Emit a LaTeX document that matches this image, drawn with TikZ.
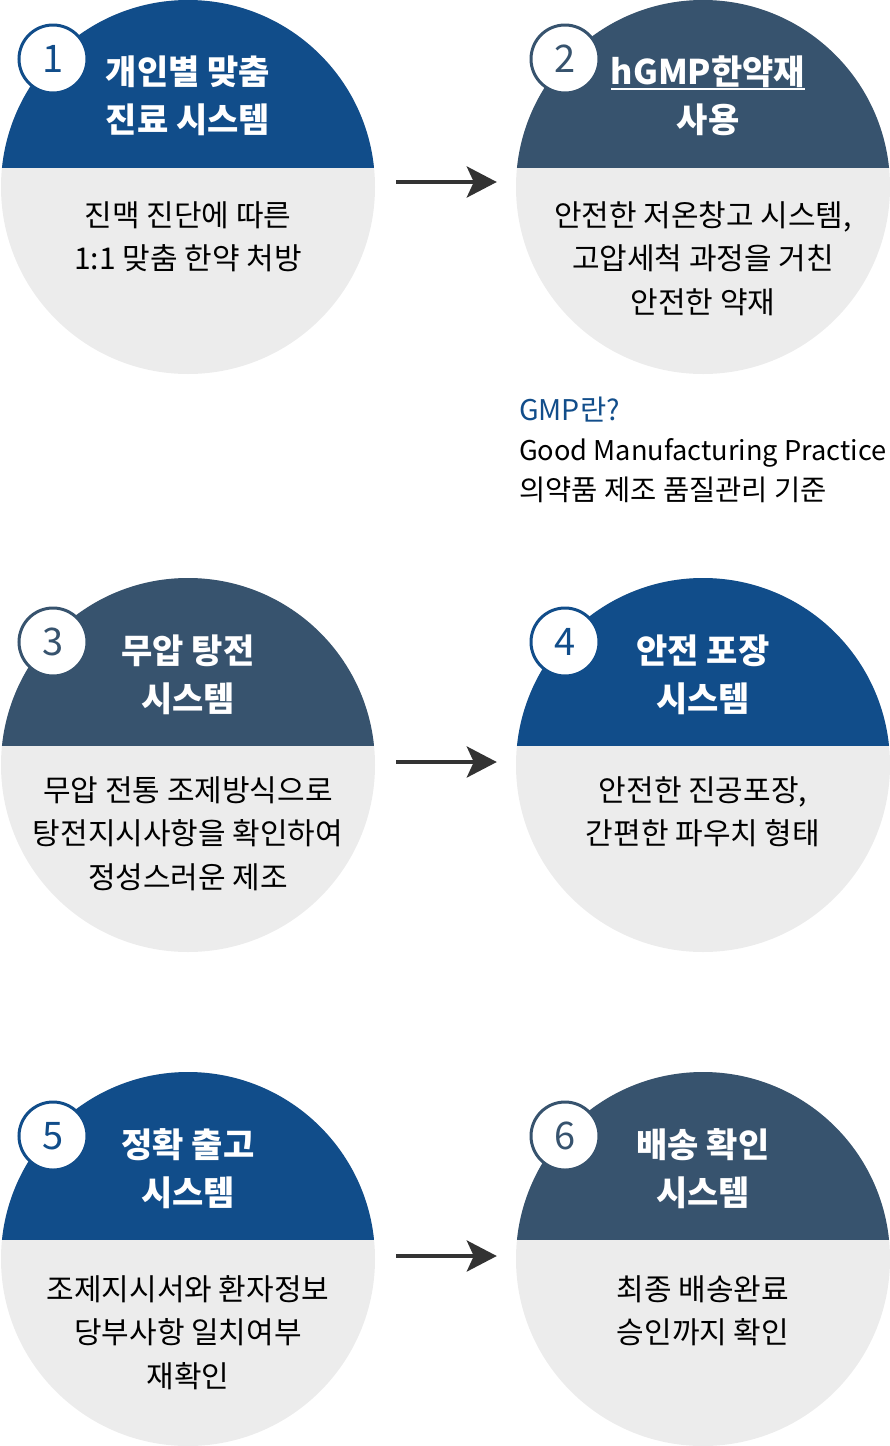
\documentclass[tikz,border=0pt]{standalone}
\usepackage{fontspec}
\setmainfont{Noto Sans CJK KR}
\usetikzlibrary{arrows.meta}
\definecolor{cblue}{HTML}{114D8A}
\definecolor{cslate}{HTML}{37536E}
\definecolor{cgray}{HTML}{ECECEC}
\definecolor{carrow}{HTML}{333333}
\newcommand\ulthick[1]{\setbox0=\hbox{#1}\rlap{\rule[-5pt]{\wd0}{1.8pt}}\box0}
\begin{document}
\begin{tikzpicture}[x=1pt,y=-1pt,
  stepcirc/.style={circle, minimum size=374pt, inner sep=0pt, fill=cgray,
    path picture={\fill[#1] (path picture bounding box.north west) rectangle ([yshift=-167.5pt]path picture bounding box.north east);}},
  badge/.style={circle, minimum size=68pt, inner sep=0pt, fill=white, draw=#1, line width=3pt, text=#1,
    font=\fontsize{38}{38}\selectfont},
  titletext/.style={text=white, align=center, inner sep=0pt, font=\bfseries\fontsize{34}{48}\selectfont},
  bodytext/.style={text=black, align=center, inner sep=0pt, anchor=north, font=\fontsize{30}{43.5}\selectfont},
  flow/.style={-{Stealth[length=30pt,width=31pt,inset=7pt]}, line width=4pt, draw=carrow, shorten <=21pt, shorten >=19pt}
]
\useasboundingbox (0,0) rectangle (890,1446);
% circles
\node[stepcirc=cblue]  (c1) at (188,187) {};
\node[stepcirc=cslate] (c2) at (703,187) {};
\node[stepcirc=cslate] (c3) at (188,765) {};
\node[stepcirc=cblue]  (c4) at (703,765) {};
\node[stepcirc=cblue]  (c5) at (188,1259) {};
\node[stepcirc=cslate] (c6) at (703,1259) {};
% badges
\node[badge=cblue]  (b1) at (53,59) {1};
\node[badge=cslate] (b2) at (565,59) {2};
\node[badge=cslate] (b3) at (53,642) {3};
\node[badge=cblue]  (b4) at (565,642) {4};
\node[badge=cblue]  (b5) at (53,1136) {5};
\node[badge=cslate] (b6) at (565,1136) {6};
% titles
\node[titletext] (t1) at (188,96) {개인별 맞춤\\진료 시스템};
\node[titletext] (t2) at (708,96) {\ulthick{hGMP한약재}\\사용};
\node[titletext] (t3) at (188,675) {무압 탕전\\시스템};
\node[titletext] (t4) at (703,675) {안전 포장\\시스템};
\node[titletext] (t5) at (188,1169) {정확 출고\\시스템};
\node[titletext] (t6) at (703,1169) {배송 확인\\시스템};
% bodies
\node[bodytext] (d1) at (188,201) {진맥 진단에 따른\\1:1 맞춤 한약 처방};
\node[bodytext] (d2) at (703,201) {안전한 저온창고 시스템,\\고압세척 과정을 거친\\안전한 약재};
\node[bodytext] (d3) at (188,776) {무압 전통 조제방식으로\\탕전지시사항을 확인하여\\정성스러운 제조};
\node[bodytext] (d4) at (703,776) {안전한 진공포장,\\간편한 파우치 형태};
\node[bodytext] (d5) at (188,1275) {조제지시서와 환자정보\\당부사항 일치여부\\재확인};
\node[bodytext] (d6) at (703,1275) {최종 배송완료\\승인까지 확인};
% note
\node[anchor=north west, align=left, inner sep=0pt, font=\fontsize{28.5}{40}\selectfont] (gmp) at (519,397)
  {\textcolor{cblue}{GMP란?}\\{\fontsize{27.2}{40}\selectfont Good Manufacturing Practice}\\의약품 제조 품질관리 기준};
% arrows
\draw[flow] ([yshift=5pt]c1.east) -- ([yshift=5pt]c2.west);
\draw[flow] ([yshift=3pt]c3.east) -- ([yshift=3pt]c4.west);
\draw[flow] ([yshift=3pt]c5.east) -- ([yshift=3pt]c6.west);
\end{tikzpicture}
\end{document}
